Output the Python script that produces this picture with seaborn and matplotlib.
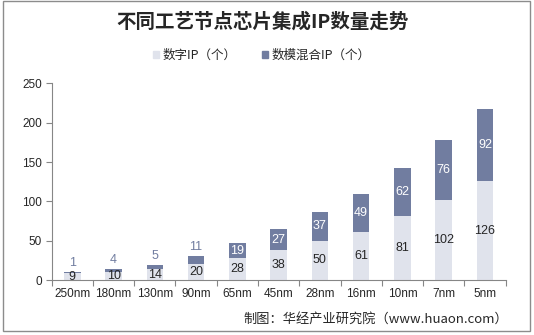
import matplotlib
matplotlib.use("Agg")
import matplotlib.pyplot as plt
import matplotlib.patches as mpatches
import seaborn as sns
import pandas as pd
import numpy as np

categories = ["250nm", "180nm", "130nm", "90nm", "65nm", "45nm", "28nm", "16nm", "10nm", "7nm", "5nm"]
digital = [9, 10, 14, 20, 28, 38, 50, 61, 81, 102, 126]
mixed = [1, 4, 5, 11, 19, 27, 37, 49, 62, 76, 92]
yticks = [0, 50, 100, 150, 200, 250]

title = "不同工艺节点芯片集成IP数量走势"
legend_labels = ["数字IP（个）", "数模混合IP（个）"]
source = "制图：华经产业研究院（www.huaon.com）"

c_dig = "#E0E3EC"
c_mix = "#717DA0"

sns.set_theme(style="white")
plt.rcParams['font.family'] = ['Liberation Sans', 'Noto Sans CJK SC', 'DejaVu Sans']

df = pd.DataFrame({"node": categories, "digital": digital, "mixed": mixed})
df["total"] = df["digital"] + df["mixed"]

fig = plt.figure(figsize=(5.34, 3.35), dpi=100)
ax = fig.add_axes([0.0968, 0.164, 0.850, 0.587])

sns.barplot(data=df, x="node", y="total", color=c_mix, width=0.4, ax=ax,
            saturation=1, edgecolor="none", linewidth=0)
sns.barplot(data=df, x="node", y="digital", color=c_dig, width=0.4, ax=ax,
            saturation=1, edgecolor="none", linewidth=0)

tot_bars = ax.containers[0]
dig_bars = ax.containers[1]

# digital labels (center of light segment)
for b, v in zip(dig_bars, digital):
    ax.text(b.get_x() + b.get_width() / 2, v / 2, str(v), ha="center", va="center",
            fontsize=9, color="#262626")

# mixed labels
for b, d, m in zip(tot_bars, digital, mixed):
    xc = b.get_x() + b.get_width() / 2
    if m < 15:
        ax.annotate(str(m), (xc, d + m), xytext=(0, 2), textcoords="offset points",
                    ha="center", va="bottom", fontsize=9, color=c_mix)
    else:
        ax.text(xc, d + m / 2, str(m), ha="center", va="center", fontsize=9,
                color="white")

ax.set_ylim(0, 250)
ax.set_xlim(-0.5, len(categories) - 0.5)
ax.set_yticks(yticks)
ax.set_xlabel("")
ax.set_ylabel("")
ax.tick_params(axis="y", which="major", length=4, width=0.8, color="#868686",
               labelsize=8.5, labelcolor="#262626", pad=3, left=True)
ax.tick_params(axis="x", which="major", length=0, labelsize=8.5, labelcolor="#262626", pad=6)
ax.set_xticks(np.arange(-0.5, len(categories), 1.0), minor=True)
ax.tick_params(axis="x", which="minor", length=4, width=0.8, color="#868686", bottom=True)
for s in ["top", "right"]:
    ax.spines[s].set_visible(False)
for s in ["left", "bottom"]:
    ax.spines[s].set_color("#868686")
    ax.spines[s].set_linewidth(0.8)
ax.grid(False)

fig.text(0.491, 0.934, title, ha="center", va="center", fontsize=14, fontweight="bold",
         family=["Noto Sans CJK SC"], color="#262626")

handles = [mpatches.Patch(color=c_dig), mpatches.Patch(color=c_mix)]
fig.legend(handles, legend_labels, loc="center", bbox_to_anchor=(0.49, 0.835), ncol=2,
           frameon=False, handlelength=0.5, handleheight=0.5,
           handletextpad=0.3, columnspacing=2.0, prop={"family": ["Noto Sans CJK SC"], "size": 9})

fig.text(0.952, 0.048, source, ha="right", va="center", fontsize=9.5,
         family=["Noto Sans CJK SC", "DejaVu Sans"], color="#262626")

fig.patches.append(mpatches.Rectangle((3 / 534, 4 / 335), 527 / 534, 330 / 335,
                                      transform=fig.transFigure, fill=False,
                                      edgecolor="#8C8C8C", linewidth=1.0))

fig.savefig("out.png", dpi=100)
